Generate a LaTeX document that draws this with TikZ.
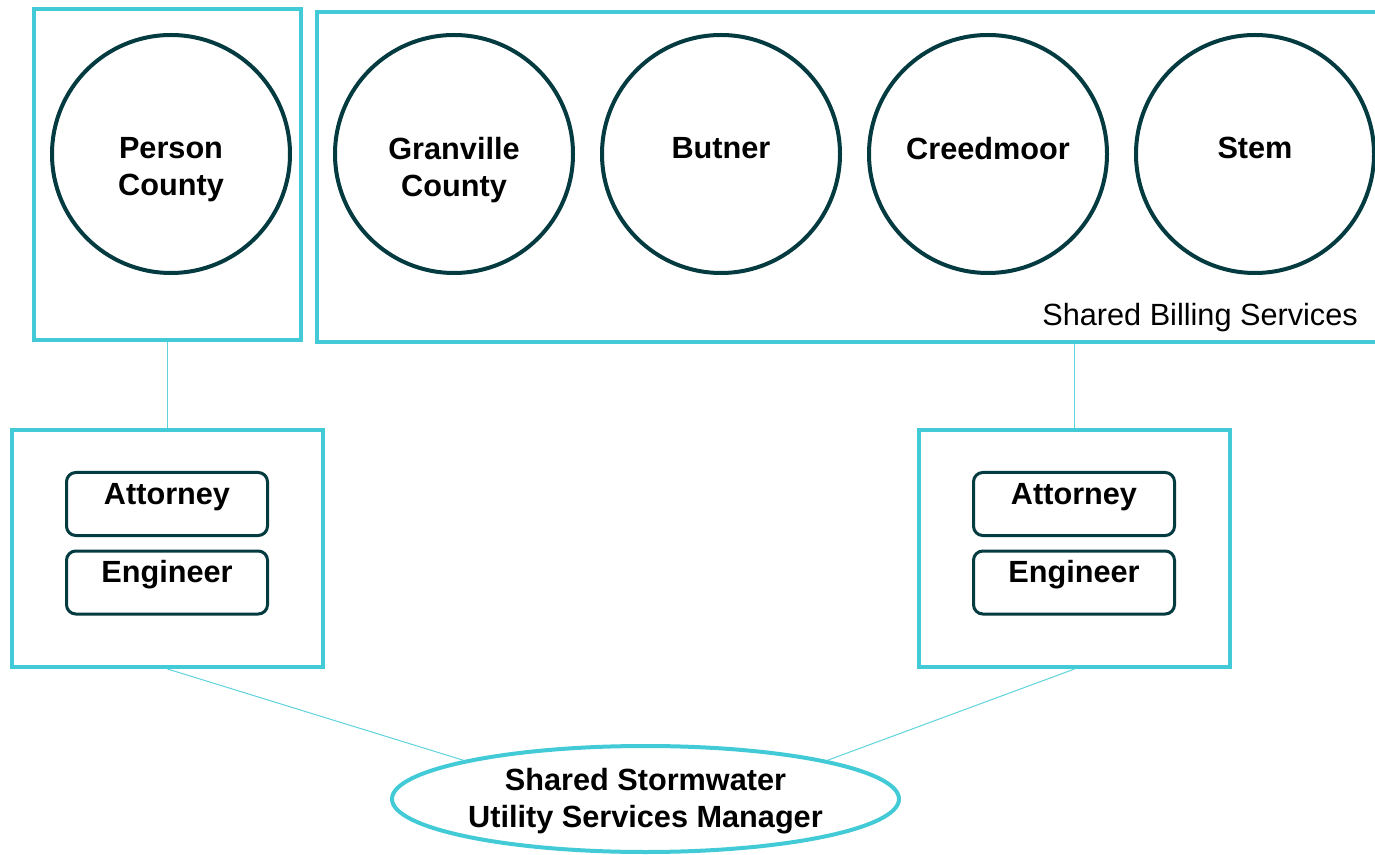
\documentclass[tikz,border=0pt]{standalone}
\usepackage{fontspec}
\setmainfont{Liberation Sans}
\usetikzlibrary{shapes.geometric,calc}
\definecolor{cy}{RGB}{66,203,214}
\definecolor{dk}{RGB}{4,59,64}
\begin{document}
\begin{tikzpicture}[x=0.75pt,y=-0.75pt,
  frame/.style={rectangle,draw=cy,line width=3pt,inner sep=0pt},
  town/.style={circle,draw=dk,line width=3pt,minimum size=178.5pt,inner sep=0pt},
  role/.style={rectangle,draw=dk,line width=2.25pt,rounded corners=7pt,minimum width=150.75pt,minimum height=47.25pt,inner sep=0pt,text height=11pt,text depth=11pt,font=\bfseries\fontsize{23}{27.75}\selectfont},
  bold/.style={font=\bfseries\fontsize{23}{27.75}\selectfont,align=center,inner sep=0pt},
  link/.style={draw=cy!85,line width=0.75pt}
]
\useasboundingbox (0,0) rectangle (1375,855);
\clip (0,0) rectangle (1375,855);
% frames
\node[frame,minimum width=200.25pt,minimum height=248.25pt] (pbox) at (167.5,174.5) {};
\node[frame,minimum width=798pt,minimum height=247.5pt] (bill) at (849,177) {};
\node[frame,minimum width=233.25pt,minimum height=177.75pt] (lbox) at (167.5,548.5) {};
\node[frame,minimum width=233.25pt,minimum height=177.75pt] (rbox) at (1074.5,548.5) {};
% towns
\node[town] (cp) at (171,154) {};
\node[town] (cg) at (454,154) {};
\node[town] (cb) at (721,154) {};
\node[town] (cc) at (988,154) {};
\node[town] (cs) at (1255,154) {};
\node[bold,anchor=north] (tp) at ($(cp.center)+(0,-17)$) {Person\\County};
\node[bold,anchor=north] (tg) at ($(cg.center)+(0,-17)$) {Granville\\County};
\node[bold,anchor=north] (tb) at ($(cb.center)+(0,-17)$) {Butner};
\node[bold,anchor=north] (tc) at ($(cc.center)+(0,-17)$) {Creedmoor};
\node[bold,anchor=north] (ts) at ($(cs.center)+(0,-17)$) {Stem};
\node[font=\fontsize{23}{27}\selectfont,anchor=base east,inner sep=0pt] (billlbl) at (1358,326) {Shared Billing Services};
% roles
\node[role] (la) at (167,504) {Attorney};
\node[role] (le) at (167,582.5) {Engineer};
\node[role] (ra) at (1074,504) {Attorney};
\node[role] (re) at (1074,582.5) {Engineer};
% manager
\node[ellipse,draw=cy,line width=3pt,minimum width=380.25pt,minimum height=79.5pt,inner sep=0pt] (ell) at (645.5,799) {};
\node[bold,anchor=north] (tm) at ($(ell.center)+(0,-31)$) {Shared Stormwater\\Utility Services Manager};
% links
\draw[link] (pbox.south) -- (lbox.north);
\draw[link] (bill.south -| rbox.north) -- (rbox.north);
\draw[link] (lbox.south) -- (ell.168);
\draw[link] (rbox.south) -- (ell.12);
\end{tikzpicture}
\end{document}
